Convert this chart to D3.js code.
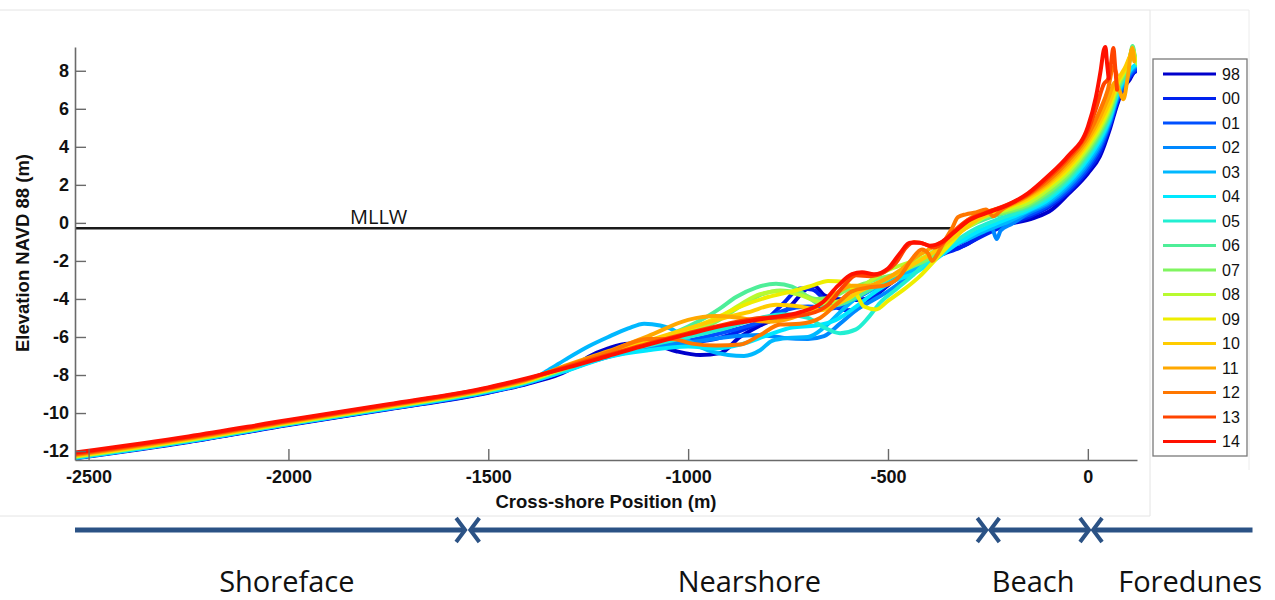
<!DOCTYPE html>
<html>
<head>
<meta charset="utf-8">
<script src="https://cdn.jsdelivr.net/npm/d3@7"></script>
<style>
body { margin: 0; background: #fff; }
svg { display: block; font-family: "Liberation Sans", Arial, sans-serif; }
</style>
</head>
<body>
<svg id="chart" width="1275" height="600"></svg>
<script>
// survey years and their colours (jet-like)
var years = ["98","00","01","02","03","04","05","06","07","08","09","10","11","12","13","14"];
var colors = ["#0000cc","#0022ee","#0050ff","#0088ff","#00b8ff","#00e8ff","#22efd2","#4eee98",
              "#80f560","#b8fa30","#eeee00","#ffcc00","#ffa800","#ff7700","#ff4400","#ff1000"];

var xTicks = [-2500, -2000, -1500, -1000, -500, 0];
var yTicks = [-12, -10, -8, -6, -4, -2, 0, 2, 4, 6, 8];

// MLLW level (m) and where the line stops
var mllw = [[-2534, -0.28], [-335, -0.28]];

// cross-shore profiles [position (m), elevation (m)]
var p98 = [[-2534,-12.38],[-2250,-11.52],[-2000,-10.63],[-1750,-9.8],[-1500,-8.93],[-1400,-8.45],[-1300,-7.75],[-1250,-7.05],[-1200,-6.6],[-1150,-6.35],[-1080,-6.45],[-1030,-6.75],[-970,-6.95],[-920,-6.85],[-870,-6.0],[-820,-5.4],[-780,-5.0],[-745,-4.4],[-705,-3.5],[-685,-3.3],[-660,-3.8],[-630,-4.0],[-580,-4.05],[-540,-3.9],[-495,-3.2],[-450,-2.6],[-400,-2.0],[-350,-1.5],[-310,-1.2],[-260,-0.6],[-212,-0.15],[-136,0.25],[-90,0.7],[-50,1.5],[0,2.6],[30,3.5],[56,5.0],[73,6.2],[90,7.1],[105,7.55],[115,7.9],[125,8.0]];
var p00 = [[-2534,-12.36],[-2250,-11.5],[-2000,-10.61],[-1750,-9.78],[-1500,-8.91],[-1400,-8.42],[-1300,-7.72],[-1200,-7.0],[-1100,-6.55],[-1000,-6.3],[-930,-6.1],[-860,-5.6],[-800,-5.0],[-760,-4.2],[-720,-3.45],[-690,-3.5],[-650,-4.2],[-600,-4.6],[-560,-4.3],[-510,-3.4],[-470,-2.8],[-420,-2.2],[-370,-1.7],[-320,-1.3],[-270,-0.75],[-220,-0.25],[-150,0.3],[-100,0.8],[-50,1.6],[0,2.75],[30,3.7],[55,5.1],[75,6.45],[92,7.25],[108,7.75],[125,8.1]];
var p01 = [[-2534,-12.35],[-2250,-11.49],[-2000,-10.6],[-1750,-9.77],[-1500,-8.9],[-1400,-8.41],[-1300,-7.7],[-1200,-7.05],[-1100,-6.6],[-1000,-6.2],[-900,-5.7],[-820,-5.2],[-760,-4.6],[-700,-4.4],[-640,-4.5],[-590,-4.1],[-540,-3.5],[-490,-3.0],[-440,-2.4],[-400,-1.9],[-360,-1.45],[-320,-1.05],[-270,-0.55],[-220,-0.15],[-150,0.4],[-100,0.9],[-50,1.72],[0,2.9],[30,3.9],[55,5.2],[75,6.55],[95,7.4],[110,7.9],[125,8.2]];
var p02 = [[-2534,-12.34],[-2250,-11.48],[-2000,-10.59],[-1750,-9.76],[-1500,-8.88],[-1400,-8.4],[-1300,-7.72],[-1200,-7.0],[-1100,-6.5],[-1000,-6.3],[-900,-6.0],[-820,-5.9],[-760,-6.05],[-700,-6.1],[-660,-5.95],[-620,-5.3],[-580,-4.6],[-540,-4.1],[-500,-3.6],[-460,-3.0],[-420,-2.3],[-380,-1.7],[-340,-1.2],[-300,-0.75],[-260,-0.35],[-240,-0.3],[-228,-0.85],[-218,-0.4],[-190,-0.05],[-150,0.5],[-100,1.0],[-50,1.85],[0,3.05],[30,4.05],[55,5.3],[75,6.65],[95,7.5],[110,8.0],[125,8.3]];
var p03 = [[-2534,-12.34],[-2250,-11.47],[-2000,-10.58],[-1750,-9.74],[-1500,-8.85],[-1400,-8.36],[-1350,-7.75],[-1300,-7.1],[-1250,-6.5],[-1200,-6.0],[-1150,-5.55],[-1110,-5.3],[-1070,-5.4],[-1040,-5.6],[-1000,-6.2],[-950,-6.7],[-900,-6.95],[-860,-7.0],[-820,-6.7],[-790,-6.2],[-750,-6.05],[-700,-6.0],[-660,-5.5],[-620,-4.7],[-585,-4.05],[-540,-3.5],[-500,-3.2],[-460,-2.7],[-420,-2.2],[-380,-1.7],[-340,-1.2],[-300,-0.85],[-250,-0.35],[-200,0.05],[-150,0.6],[-100,1.1],[-50,1.98],[0,3.2],[30,4.2],[55,5.4],[75,6.75],[95,7.6],[110,8.1],[125,8.3]];
var p04 = [[-2534,-12.36],[-2250,-11.48],[-2000,-10.58],[-1750,-9.75],[-1500,-8.87],[-1400,-8.39],[-1300,-7.75],[-1200,-7.05],[-1100,-6.7],[-1000,-6.5],[-930,-6.6],[-870,-6.4],[-800,-5.9],[-740,-5.5],[-680,-5.4],[-630,-5.1],[-580,-4.4],[-530,-3.6],[-480,-3.0],[-440,-2.7],[-400,-2.2],[-360,-1.6],[-320,-1.0],[-270,-0.4],[-220,0.05],[-150,0.65],[-100,1.2],[-50,2.1],[0,3.35],[30,4.35],[55,5.5],[75,6.85],[95,7.7],[110,8.15],[125,8.4]];
var p05 = [[-2534,-12.32],[-2250,-11.45],[-2000,-10.56],[-1750,-9.72],[-1500,-8.83],[-1400,-8.34],[-1300,-7.65],[-1200,-6.95],[-1100,-6.45],[-1000,-6.0],[-900,-5.5],[-820,-5.0],[-760,-4.8],[-700,-5.0],[-660,-5.5],[-620,-5.8],[-580,-5.6],[-550,-5.0],[-520,-4.2],[-480,-3.5],[-440,-2.8],[-400,-2.0],[-360,-1.4],[-320,-0.8],[-280,-0.3],[-230,0.15],[-150,0.75],[-100,1.32],[-50,2.22],[0,3.5],[30,4.5],[55,5.6],[75,6.95],[95,7.85],[105,8.55],[112,9.2],[118,8.6],[125,8.3]];
var p06 = [[-2534,-12.3],[-2250,-11.43],[-2000,-10.54],[-1750,-9.69],[-1500,-8.79],[-1400,-8.28],[-1300,-7.55],[-1200,-6.85],[-1100,-6.3],[-1050,-5.9],[-1000,-5.45],[-950,-4.9],[-920,-4.5],[-880,-3.9],[-830,-3.4],[-780,-3.2],[-740,-3.35],[-700,-3.9],[-660,-4.4],[-620,-4.3],[-570,-3.8],[-520,-3.2],[-470,-2.6],[-420,-2.0],[-380,-1.4],[-340,-0.7],[-300,-0.2],[-250,0.25],[-200,0.55],[-150,0.85],[-100,1.45],[-50,2.35],[0,3.65],[30,4.65],[55,5.75],[75,7.05],[95,7.95],[105,8.65],[112,9.3],[118,8.7],[125,8.3]];
var p07 = [[-2534,-12.3],[-2250,-11.42],[-2000,-10.53],[-1750,-9.69],[-1500,-8.8],[-1400,-8.31],[-1300,-7.6],[-1200,-6.9],[-1100,-6.35],[-1000,-5.75],[-930,-5.2],[-870,-4.4],[-820,-3.8],[-770,-3.55],[-720,-3.7],[-680,-4.0],[-640,-3.9],[-600,-3.5],[-560,-3.2],[-520,-2.9],[-480,-2.7],[-440,-2.3],[-400,-1.9],[-360,-1.2],[-320,-0.4],[-290,0.05],[-250,0.35],[-200,0.6],[-150,0.95],[-100,1.6],[-50,2.5],[0,3.8],[30,4.8],[55,5.9],[75,7.15],[95,8.05],[105,8.7],[112,9.25],[118,8.7],[125,8.4]];
var p08 = [[-2534,-12.28],[-2250,-11.41],[-2000,-10.52],[-1750,-9.68],[-1500,-8.79],[-1400,-8.3],[-1300,-7.58],[-1200,-6.9],[-1100,-6.3],[-1000,-5.7],[-930,-5.1],[-870,-4.3],[-820,-3.75],[-770,-3.6],[-720,-3.8],[-660,-4.2],[-600,-4.0],[-560,-3.3],[-520,-2.7],[-490,-2.4],[-450,-2.1],[-410,-1.8],[-370,-1.3],[-330,-0.6],[-290,-0.1],[-250,0.4],[-200,0.7],[-150,1.05],[-100,1.75],[-50,2.65],[0,3.95],[30,4.95],[55,6.05],[75,7.3],[95,8.1],[105,8.7],[112,9.1],[118,8.6],[123,8.4]];
var p09 = [[-2534,-12.26],[-2250,-11.39],[-2000,-10.5],[-1750,-9.66],[-1500,-8.77],[-1400,-8.28],[-1300,-7.55],[-1200,-6.9],[-1100,-6.3],[-1000,-5.6],[-930,-5.0],[-870,-4.4],[-800,-3.9],[-740,-3.6],[-690,-3.3],[-650,-3.05],[-610,-3.1],[-580,-3.7],[-560,-4.4],[-530,-4.55],[-500,-4.1],[-460,-3.5],[-420,-2.8],[-380,-1.9],[-340,-1.0],[-310,-0.3],[-280,0.2],[-240,0.5],[-200,0.8],[-150,1.2],[-100,1.9],[-50,2.8],[0,4.1],[30,5.1],[55,6.2],[75,7.4],[95,8.15],[105,8.7],[112,9.1],[118,8.6]];
var p10 = [[-2534,-12.24],[-2250,-11.37],[-2000,-10.48],[-1750,-9.64],[-1500,-8.75],[-1400,-8.26],[-1300,-7.5],[-1200,-6.85],[-1100,-6.2],[-1000,-5.55],[-920,-5.05],[-850,-4.7],[-780,-4.3],[-720,-4.4],[-670,-4.6],[-620,-4.2],[-570,-3.6],[-520,-3.1],[-470,-2.6],[-430,-2.1],[-390,-1.6],[-350,-1.0],[-310,-0.35],[-270,0.25],[-230,0.6],[-200,0.85],[-150,1.3],[-100,2.0],[-50,2.95],[0,4.25],[30,5.3],[55,6.4],[75,7.5],[95,8.25],[105,8.75],[111,9.0],[116,8.6]];
var p11 = [[-2534,-12.21],[-2250,-11.34],[-2000,-10.46],[-1750,-9.62],[-1500,-8.73],[-1400,-8.23],[-1300,-7.45],[-1200,-6.75],[-1100,-5.95],[-1000,-5.1],[-930,-4.9],[-870,-5.0],[-800,-5.2],[-740,-5.0],[-680,-4.4],[-630,-3.7],[-590,-3.3],[-550,-3.3],[-510,-3.0],[-470,-2.5],[-430,-1.8],[-390,-1.3],[-350,-0.8],[-320,-0.2],[-290,0.3],[-250,0.6],[-200,0.9],[-150,1.4],[-100,2.1],[-50,3.1],[0,4.4],[30,5.55],[50,6.5],[69,7.4],[80,6.9],[89,6.5],[100,7.7],[111,9.2],[116,8.5]];
var p12 = [[-2534,-12.18],[-2250,-11.31],[-2000,-10.44],[-1750,-9.6],[-1500,-8.71],[-1400,-8.21],[-1300,-7.5],[-1200,-6.8],[-1100,-6.1],[-1040,-6.1],[-990,-6.35],[-930,-6.45],[-870,-6.4],[-820,-5.9],[-770,-5.35],[-720,-5.3],[-670,-5.0],[-630,-4.3],[-590,-3.6],[-550,-3.4],[-510,-3.3],[-470,-2.8],[-440,-1.9],[-415,-1.4],[-400,-1.6],[-390,-2.0],[-378,-1.7],[-360,-1.0],[-340,-0.3],[-325,0.3],[-305,0.45],[-280,0.55],[-255,0.7],[-237,0.35],[-215,0.7],[-150,1.45],[-100,2.2],[-50,3.25],[0,4.6],[30,5.9],[50,7.0],[64,8.2],[72,7.8]];
var p13 = [[-2534,-12.14],[-2250,-11.28],[-2000,-10.41],[-1750,-9.57],[-1500,-8.68],[-1400,-8.19],[-1300,-7.55],[-1200,-6.95],[-1100,-6.35],[-1000,-5.8],[-900,-5.3],[-820,-5.0],[-760,-4.95],[-700,-4.8],[-650,-4.3],[-610,-3.3],[-580,-2.75],[-545,-2.8],[-510,-2.6],[-480,-2.1],[-455,-1.3],[-435,-1.0],[-410,-1.1],[-385,-1.3],[-360,-1.0],[-335,-0.45],[-300,0.15],[-260,0.5],[-220,0.8],[-150,1.5],[-100,2.35],[-50,3.4],[0,4.85],[20,6.0],[40,7.3],[52,7.6],[58,8.4],[64,9.2],[68,8.3],[73,7.0]];
var p14 = [[-2534,-12.08],[-2250,-11.23],[-2000,-10.37],[-1750,-9.54],[-1500,-8.65],[-1400,-8.15],[-1300,-7.6],[-1200,-7.0],[-1100,-6.4],[-1000,-5.85],[-900,-5.35],[-800,-5.0],[-720,-4.7],[-665,-4.2],[-625,-3.3],[-590,-2.7],[-565,-2.6],[-535,-2.7],[-500,-2.4],[-470,-1.6],[-445,-1.05],[-420,-1.05],[-395,-1.2],[-365,-1.0],[-335,-0.5],[-300,0.1],[-250,0.55],[-200,0.95],[-150,1.55],[-100,2.45],[-50,3.5],[0,5.05],[20,6.6],[32,8.0],[40,9.1],[44,9.25],[48,8.4],[52,7.6]];
var profiles = [p98,p00,p01,p02,p03,p04,p05,p06,p07,p08,p09,p10,p11,p12,p13,p14];

// morphological zones below the plot (cross-shore metres)
var zoneNames = ["Shoreface", "Nearshore", "Beach", "Foredunes"];
var zoneFrom  = [-2534, -1545, -244, 13];
var zoneTo    = [-1558, -254, 3, 412];
var zoneLabelX = [-2004, -847, -137, 256];

var svg = d3.select('#chart');

var x = d3.scaleLinear().domain([-2534, 123]).range([75, 1137]);
var y = d3.scaleLinear().domain([-12.47, 9.25]).range([460, 47]);

// faint frames of the pasted figure pieces
svg.append('path').attr('d', 'M0,10 H1150 V516 H0').attr('fill', 'none').attr('stroke', '#e4e4e4');
svg.append('path').attr('d', 'M1150,10 H1249 V470').attr('fill', 'none').attr('stroke', '#ececec');

svg.append('clipPath').attr('id', 'plotclip')
   .append('rect').attr('x', 75).attr('y', 44).attr('width', 1062).attr('height', 416);

var plot = svg.append('g').attr('clip-path', 'url(#plotclip)');

var line = d3.line()
             .x(function (d) { return x(d[0]); })
             .y(function (d) { return y(d[1]); })
             .curve(d3.curveMonotoneX);

plot.append('path')
    .attr('d', d3.line().x(function (d) { return x(d[0]); }).y(function (d) { return y(d[1]); })(mllw))
    .attr('stroke', '#1a1a1a')
    .attr('stroke-width', 2.4)
    .attr('fill', 'none');

plot.selectAll('path.profile')
    .data(profiles)
    .enter()
    .append('path')
    .attr('class', 'profile')
    .attr('d', line)
    .attr('fill', 'none')
    .attr('stroke', function (d, i) { return colors[i]; })
    .attr('stroke-width', 4)
    .attr('stroke-linejoin', 'round')
    .attr('stroke-linecap', 'round');

svg.append('text')
   .text('MLLW')
   .attr('x', 350)
   .attr('y', y(-0.28) - 4)
   .attr('font-family', '"Open Sans", sans-serif')
   .attr('font-size', 20)
   .attr('fill', '#111');

// axes, ticks pointing inward like MATLAB
var plain = function (d) { return String(d); };
var yAxis = d3.axisLeft(y).tickValues(yTicks).tickFormat(plain).tickSize(-11).tickSizeOuter(0).tickPadding(6);
var xAxis = d3.axisBottom(x).tickValues(xTicks).tickFormat(plain).tickSize(-11).tickSizeOuter(0).tickPadding(10);

var gy = svg.append('g').attr('transform', 'translate(75,0)').call(yAxis);
var gx = svg.append('g').attr('transform', 'translate(0,460)').call(xAxis);

[gy, gx].forEach(function (g) {
    g.select('.domain').attr('stroke', '#6a6a6a').attr('stroke-width', 1.6);
    g.selectAll('.tick line').attr('stroke', '#6a6a6a').attr('stroke-width', 1.4);
    g.selectAll('.tick text')
     .attr('font-family', '"Liberation Sans", Arial, sans-serif')
     .attr('font-size', 18)
     .attr('font-weight', 'bold')
     .attr('fill', '#111');
});

svg.append('text')
   .text('Elevation NAVD 88 (m)')
   .attr('transform', 'translate(23,253) rotate(-90)')
   .attr('text-anchor', 'middle')
   .attr('dy', '0.35em')
   .attr('font-size', 18.5)
   .attr('font-weight', 'bold')
   .attr('fill', '#111');

svg.append('text')
   .text('Cross-shore Position (m)')
   .attr('x', 606)
   .attr('y', 508)
   .attr('text-anchor', 'middle')
   .attr('font-size', 18.5)
   .attr('font-weight', 'bold')
   .attr('fill', '#111');

// legend
var legend = svg.append('g');
legend.append('rect')
      .attr('x', 1153).attr('y', 59).attr('width', 94).attr('height', 397)
      .attr('fill', '#fff').attr('stroke', '#7a7a7a').attr('stroke-width', 1.3);

var item = legend.selectAll('g.item')
                 .data(years)
                 .enter()
                 .append('g')
                 .attr('transform', function (d, i) { return 'translate(0,' + (74 + i * 24.5) + ')'; });
item.append('line')
    .attr('x1', 1163).attr('x2', 1216).attr('y1', 0).attr('y2', 0)
    .attr('stroke', function (d, i) { return colors[i]; })
    .attr('stroke-width', 3);
item.append('text')
    .text(function (d) { return d; })
    .attr('x', 1222).attr('dy', '0.36em')
    .attr('font-size', 16)
    .attr('fill', '#111');

// zone arrows and names
var arrowY = 530;
var arrowColor = '#2b5285';
var zones = svg.append('g');
zones.selectAll('line.zone')
     .data(zoneNames)
     .enter()
     .append('line')
     .attr('x1', function (d, i) { return x(zoneFrom[i]); })
     .attr('x2', function (d, i) { return x(zoneTo[i]); })
     .attr('y1', arrowY).attr('y2', arrowY)
     .attr('stroke', arrowColor)
     .attr('stroke-width', 5);

// chevron heads: right-pointing where a zone ends, left-pointing where the next one starts
zones.selectAll('path.head')
     .data(zoneNames.slice(0, 3))
     .enter()
     .append('path')
     .attr('d', function (d, i) {
         var tip = x(zoneTo[i]);
         return 'M' + (tip - 9) + ',' + (arrowY - 12) + ' L' + tip + ',' + arrowY + ' L' + (tip - 9) + ',' + (arrowY + 12);
     })
     .attr('fill', 'none').attr('stroke', arrowColor).attr('stroke-width', 4);
zones.selectAll('path.tail')
     .data(zoneNames.slice(1))
     .enter()
     .append('path')
     .attr('d', function (d, i) {
         var tip = x(zoneFrom[i + 1]);
         return 'M' + (tip + 9) + ',' + (arrowY - 12) + ' L' + tip + ',' + arrowY + ' L' + (tip + 9) + ',' + (arrowY + 12);
     })
     .attr('fill', 'none').attr('stroke', arrowColor).attr('stroke-width', 4);

zones.selectAll('text')
     .data(zoneNames)
     .enter()
     .append('text')
     .text(function (d) { return d; })
     .attr('x', function (d, i) { return x(zoneLabelX[i]); })
     .attr('y', 592)
     .attr('text-anchor', 'middle')
     .attr('font-family', '"Open Sans", sans-serif')
     .attr('font-size', 29)
     .attr('fill', '#111');
</script>
</body>
</html>
